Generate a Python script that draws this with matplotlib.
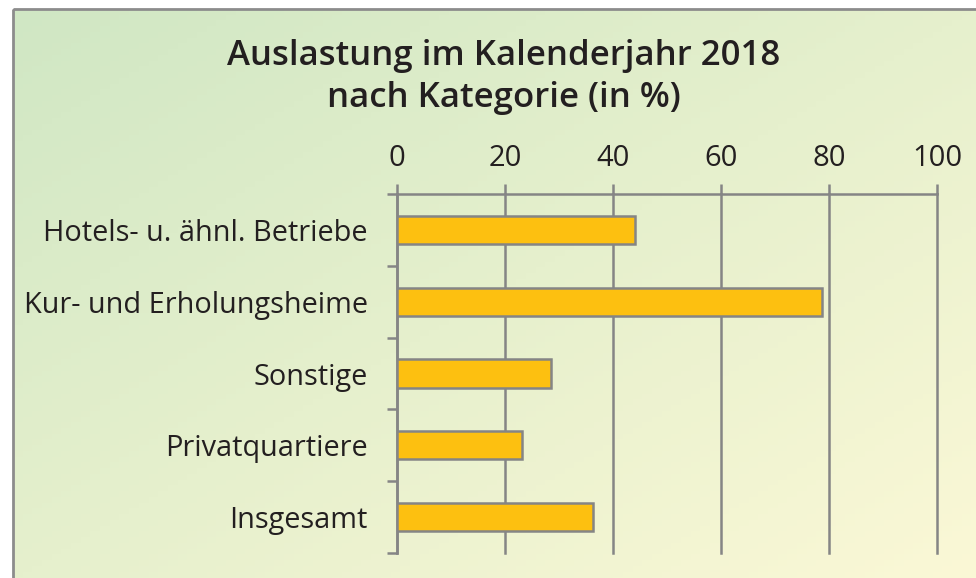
import numpy as np
import matplotlib
matplotlib.use("Agg")
import matplotlib.pyplot as plt
from matplotlib.colors import LinearSegmentedColormap
from matplotlib.patches import Rectangle

categories = ["Hotels- u. ähnl. Betriebe", "Kur- und Erholungsheime", "Sonstige",
              "Privatquartiere", "Insgesamt"]
values = [44.1, 78.7, 28.5, 23.1, 36.3]
xticks = [0, 20, 40, 60, 80, 100]
title_lines = ["Auslastung im Kalenderjahr 2018", "nach Kategorie (in %)"]

plt.rcParams['font.family'] = ['Open Sans', 'DejaVu Sans']

W, H = 976, 578
fig = plt.figure(figsize=(W / 100, H / 100), dpi=100)
fig.patch.set_facecolor("white")

# background gradient panel with border
bg = fig.add_axes([0, 0, 1, 1], zorder=-5)
bg.set_xlim(0, W)
bg.set_ylim(H, 0)
bg.axis("off")
cmap = LinearSegmentedColormap.from_list("g", ["#D0E7C4", "#E6F0CD", "#FBF8D6"])
yy, xx = np.mgrid[0:100, 0:100]
grad = (xx / 99.0) * 0.5 + (yy / 99.0) * 0.5
bg.imshow(grad, cmap=cmap, extent=[13, W + 5, H + 5, 9], aspect="auto", zorder=0)
bg.add_patch(Rectangle((13, 9), W, H, fill=False, edgecolor="#8C8C8C", linewidth=2.0, zorder=1))

# main axes
ax = fig.add_axes([397 / W, 1 - 553 / H, (937 - 397) / W, (553 - 194) / H])
ax.patch.set_alpha(0)
y = np.arange(len(categories))
ax.barh(y, values, height=0.39, color="#FDC010", edgecolor="#858585", linewidth=1.8, zorder=3)
ax.set_ylim(len(categories) - 0.5, -0.5)
ax.set_xlim(0, 100)
ax.xaxis.tick_top()
ax.set_xticks(xticks)
ax.set_xticklabels([str(t) for t in xticks])
ax.set_yticks(y)
ax.set_yticklabels(categories)
ax.set_yticks(np.arange(-0.5, len(categories), 1.0), minor=True)
ax.tick_params(axis="y", which="major", length=0, pad=21, labelsize=20.8, labelcolor="#231F20")
ax.tick_params(axis="y", which="minor", length=7, width=1.8, color="#858585")
ax.tick_params(axis="x", which="major", length=7, width=1.8, color="#858585", pad=8,
               labelsize=21, labelcolor="#231F20")
ax.grid(axis="x", color="#858585", linewidth=1.8, zorder=1)
for gl in ax.get_xgridlines():
    gl.set_clip_on(False)
ax.set_axisbelow(True)
for s in ["right", "bottom"]:
    ax.spines[s].set_visible(False)
for s in ["top", "left"]:
    ax.spines[s].set_color("#858585")
    ax.spines[s].set_linewidth(1.8)

fig.text(503.5 / W, 1 - 65 / H, title_lines[0], ha="center", va="baseline", fontsize=25,
         fontweight="semibold", color="#231F20")
fig.text(503.5 / W, 1 - 107 / H, title_lines[1], ha="center", va="baseline", fontsize=25,
         fontweight="semibold", color="#231F20")

fig.savefig("out.png", dpi=100)
